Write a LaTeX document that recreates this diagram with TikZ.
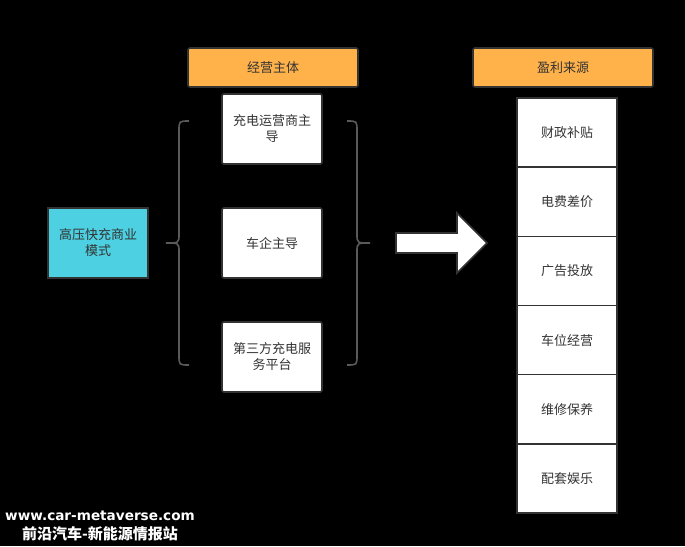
\documentclass[tikz,border=0pt]{standalone}
\usepackage{fontspec}
\setmainfont{Noto Sans CJK SC}
\newfontfamily\wmlatin{DejaVu Sans}
\newfontfamily\wmcjk{Noto Sans CJK SC}
\definecolor{hdrorange}{HTML}{FFB14A}
\definecolor{modecyan}{HTML}{4DD0E1}
\definecolor{edgegray}{HTML}{333333}
\definecolor{bracegray}{HTML}{5A5A5A}
\definecolor{txtgray}{HTML}{333333}
\tikzset{
  base/.style={draw=edgegray, line width=1.6pt, text=txtgray, align=center,
    font=\fontsize{13pt}{16pt}\selectfont, inner sep=2pt},
  hdr/.style={base, fill=hdrorange, rounded corners=2pt, minimum height=39pt},
  opbox/.style={base, fill=white, rounded corners=2pt, minimum width=100pt, minimum height=70pt},
  modebox/.style={base, fill=modecyan, minimum width=100pt, minimum height=70pt},
  rowbox/.style={base, fill=white, minimum width=100pt, minimum height=69.17pt},
  bracepath/.style={draw=bracegray, line width=1.6pt},
  bigarrow/.style={draw=edgegray, line width=1.6pt, fill=white},
  wm/.style={text=white, inner sep=0pt}
}
\begin{document}
\begin{tikzpicture}[x=1pt,y=-1pt]
\fill[black] (0,0) rectangle (685,546);
\useasboundingbox (0,0) rectangle (685,546);

% headers
\node[hdr, minimum width=170pt] (hdrA) at (273,67.5) {经营主体};
\node[hdr, minimum width=180pt] (hdrB) at (563,67.5) {盈利来源};

% operators
\node[opbox] (opA) at (272,129) {充电运营商主\\导};
\node[opbox] (opB) at (272,243) {车企主导};
\node[opbox] (opC) at (272,357) {第三方充电服\\务平台};

% mode
\node[modebox] (mode) at (98,243) {高压快充商业\\模式};

% braces
\draw[bracepath] (189,121) .. controls (179,121) .. (179,131) -- (179,234)
  .. controls (179,243) .. (166,243) .. controls (179,243) .. (179,252)
  -- (179,355) .. controls (179,365) .. (189,365);
\draw[bracepath] (347,121) .. controls (357,121) .. (357,131) -- (357,234)
  .. controls (357,243) .. (370,243) .. controls (357,243) .. (357,252)
  -- (357,355) .. controls (357,365) .. (347,365);

% big arrow
\draw[bigarrow] (396,233) -- (457,233) -- (457,213) -- (487,243) -- (457,273)
  -- (457,253) -- (396,253) -- cycle;

% revenue rows
\node[rowbox] (r1) at (567,132.58) {财政补贴};
\node[rowbox] (r2) at (567,201.75) {电费差价};
\node[rowbox] (r3) at (567,270.92) {广告投放};
\node[rowbox] (r4) at (567,340.08) {车位经营};
\node[rowbox] (r5) at (567,409.25) {维修保养};
\node[rowbox] (r6) at (567,478.42) {配套娱乐};

% watermark
\node[wm, font=\wmlatin\bfseries\fontsize{13.6pt}{15pt}\selectfont] (wm1) at (100,516) {www.car-metaverse.com};
\node[wm, font=\wmcjk\bfseries\fontsize{15pt}{17pt}\selectfont] (wm2) at (100,534) {前沿汽车-新能源情报站};
\end{tikzpicture}
\end{document}
